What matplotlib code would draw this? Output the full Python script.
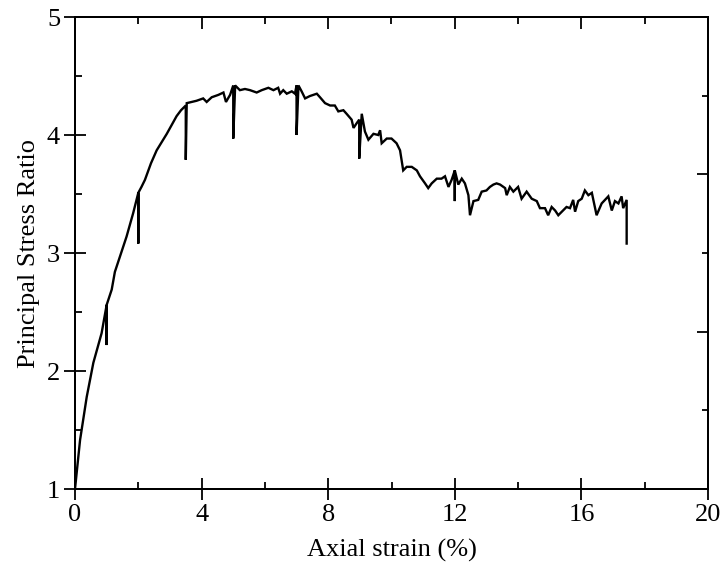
import matplotlib
matplotlib.use("Agg")
import matplotlib.pyplot as plt
from matplotlib.ticker import MultipleLocator

# Axial strain (%)
strain = [
    0.00, 0.16, 0.37, 0.58, 0.84, 1.00, 1.00, 1.00, 1.16, 1.26,
    1.42, 1.63, 1.84, 2.00, 2.00, 2.00, 2.10, 2.21, 2.40, 2.58,
    2.90, 3.21, 3.35, 3.50, 3.50, 3.53, 3.69, 3.84, 4.05, 4.16,
    4.32, 4.53, 4.69, 4.77, 4.90, 5.00, 5.00, 5.06, 5.21, 5.37,
    5.53, 5.74, 5.90, 6.11, 6.27, 6.42, 6.48, 6.58, 6.69, 6.85,
    6.95, 7.00, 7.00, 7.06, 7.16, 7.27, 7.42, 7.64, 7.74, 7.90,
    8.06, 8.21, 8.32, 8.48, 8.58, 8.74, 8.80, 8.90, 8.98, 8.98,
    9.06, 9.16, 9.27, 9.43, 9.58, 9.64, 9.69, 9.85, 10.00, 10.16,
    10.27, 10.37, 10.48, 10.64, 10.80, 10.90, 11.06, 11.16, 11.27, 11.43,
    11.58, 11.69, 11.80, 11.90, 12.00, 12.00, 12.00, 12.11, 12.22, 12.32,
    12.43, 12.48, 12.59, 12.74, 12.85, 13.00, 13.11, 13.22, 13.32, 13.43,
    13.59, 13.64, 13.74, 13.85, 14.00, 14.11, 14.27, 14.43, 14.59, 14.69,
    14.85, 14.95, 15.06, 15.17, 15.27, 15.38, 15.53, 15.64, 15.74, 15.80,
    15.90, 16.01, 16.11, 16.22, 16.33, 16.48, 16.64, 16.85, 16.96, 17.06,
    17.17, 17.27, 17.32, 17.43, 17.43,
]

# Principal stress ratio
ratio = [
    1.00, 1.415, 1.78, 2.07, 2.32, 2.56, 2.22, 2.56, 2.69, 2.84,
    2.97, 3.14, 3.34, 3.51, 3.08, 3.51, 3.56, 3.62, 3.76, 3.87,
    4.01, 4.16, 4.21, 4.25, 3.79, 4.27, 4.28, 4.29, 4.31, 4.28,
    4.32, 4.34, 4.36, 4.28, 4.34, 4.42, 3.97, 4.42, 4.38, 4.39,
    4.38, 4.36, 4.38, 4.40, 4.38, 4.40, 4.35, 4.38, 4.35, 4.37,
    4.35, 4.42, 4.00, 4.42, 4.37, 4.31, 4.33, 4.35, 4.32, 4.27,
    4.25, 4.25, 4.20, 4.21, 4.18, 4.13, 4.06, 4.10, 4.13, 3.80,
    4.18, 4.03, 3.96, 4.01, 4.00, 4.04, 3.93, 3.97, 3.97, 3.93,
    3.87, 3.70, 3.73, 3.73, 3.70, 3.65, 3.59, 3.55, 3.59, 3.63,
    3.63, 3.65, 3.56, 3.62, 3.70, 3.44, 3.70, 3.58, 3.63, 3.59,
    3.49, 3.32, 3.44, 3.45, 3.52, 3.53, 3.56, 3.58, 3.59, 3.58,
    3.55, 3.49, 3.56, 3.52, 3.56, 3.46, 3.52, 3.46, 3.44, 3.38,
    3.38, 3.32, 3.39, 3.36, 3.32, 3.35, 3.39, 3.38, 3.45, 3.35,
    3.44, 3.46, 3.53, 3.49, 3.51, 3.32, 3.42, 3.48, 3.36, 3.44,
    3.42, 3.48, 3.38, 3.45, 3.08,
]

x_label = "Axial strain (%)"
y_label = "Principal Stress Ratio"
x_ticks = [0, 4, 8, 12, 16, 20]
y_ticks = [1, 2, 3, 4, 5]

plt.rcParams["font.family"] = ["Liberation Serif", "DejaVu Serif"]

fig = plt.figure(figsize=(7.25, 5.66), dpi=100)
ax = fig.add_axes([75 / 725, 1 - 489 / 566, 633 / 725, 472 / 566])

ax.plot(strain, ratio, color="black", lw=1.7, solid_joinstyle="miter")

ax.set_xlim(0, 20)
ax.set_ylim(1, 5)
ax.set_xticks(x_ticks)
ax.set_yticks(y_ticks)
ax.xaxis.set_minor_locator(MultipleLocator(2))
ax.yaxis.set_minor_locator(MultipleLocator(0.5))
ax.tick_params(which="major", direction="inout", length=15.5, width=1.3,
               labelsize=19, pad=3, top=False, right=False)
ax.tick_params(which="minor", direction="in", length=4.8, width=1.3,
               top=False, right=False)
for s in ax.spines.values():
    s.set_linewidth(1.4)

ax.set_xlabel(x_label, fontsize=19, labelpad=9)
ax.set_ylabel(y_label, fontsize=19, labelpad=5)

# top ticks (inward, no labels)
top = ax.secondary_xaxis("top")
top.set_xticks(x_ticks)
top.xaxis.set_minor_locator(MultipleLocator(2))
top.tick_params(which="major", direction="in", length=8.5, width=1.3,
                labeltop=False)
top.tick_params(which="minor", direction="in", length=4.8, width=1.3)
top.spines["top"].set_linewidth(1.4)

# right ticks (inward, independent spacing, no labels)
right = ax.twinx()
right.set_ylim(0, 3)
right.set_yticks([0, 1, 2, 3])
right.yaxis.set_minor_locator(MultipleLocator(0.5))
right.tick_params(which="major", direction="in", length=8, width=1.3,
                  labelright=False)
right.tick_params(which="minor", direction="in", length=4.3, width=1.3)
for s in right.spines.values():
    s.set_linewidth(1.4)

fig.savefig("out.png", dpi=100)
